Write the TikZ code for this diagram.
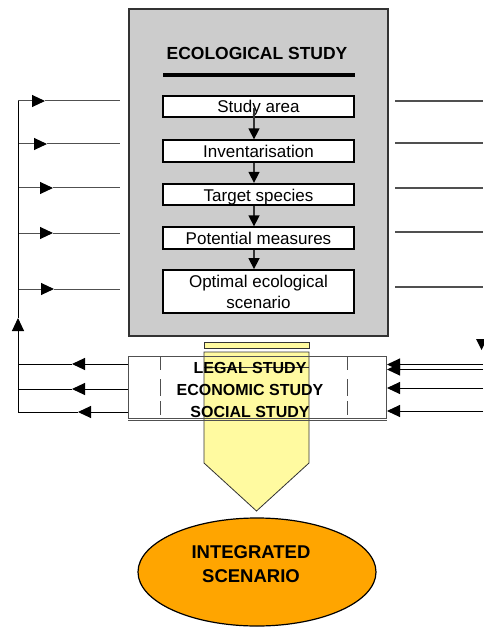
\documentclass[tikz,border=0pt]{standalone}
\usepackage{fontspec}
\setmainfont{Liberation Sans}
\usetikzlibrary{arrows.meta,shapes.geometric}
\definecolor{ecogray}{RGB}{204,204,204}
\definecolor{edgegray}{RGB}{51,51,51}
\definecolor{lightyel}{RGB}{255,250,160}
\definecolor{orng}{RGB}{255,165,0}
\definecolor{linegray}{RGB}{80,80,80}
\tikzset{
  ecobox/.style={draw=black, line width=1.8pt, fill=white, minimum width=191pt,
    minimum height=21.5pt, inner sep=0pt, text height=13pt, text depth=0pt,
    font=\fontsize{17}{21}\selectfont},
  flowarrow/.style={draw=edgegray, line width=1.5pt, -{Triangle[length=11pt,width=11pt,color=black]}},
  feedline/.style={draw=linegray, line width=1pt},
  feedarrow/.style={feedline, -{Triangle[length=13pt,width=12pt,color=black]}},
  sideline/.style={draw=linegray, line width=1.3pt},
}
\begin{document}
\begin{tikzpicture}[x=1pt,y=-1pt]
\useasboundingbox (0,0) rectangle (483,628);

% ecological study frame
\node[draw=edgegray, line width=2pt, fill=ecogray, minimum width=259pt,
  minimum height=327pt, anchor=north west, inner sep=0pt] (eco) at (128,8) {};
\node[font=\fontsize{17.5}{21}\selectfont\bfseries] (title) at (257,53.5) {ECOLOGICAL STUDY};
\draw[line width=3.5pt] (163,75) -- (355,75);

\node[ecobox] (s1) at (258.5,106.5) {Study area};
\node[ecobox] (s2) at (258.5,151) {Inventarisation};
\node[ecobox] (s3) at (258.5,194.5) {Target species};
\node[ecobox] (s4) at (258.5,238) {Potential measures};
\node[ecobox, minimum height=43pt, align=center, text height=33.5pt] (s5) at (258.5,291.5) {Optimal ecological\\scenario};

\draw[flowarrow] ([xshift=-4.5pt,yshift=-1.5pt]s1.center) -- ([xshift=-4.5pt]s2.north);
\draw[flowarrow] ([xshift=-4.5pt]s2.south) -- ([xshift=-4.5pt]s3.north);
\draw[flowarrow] ([xshift=-4.5pt]s3.south) -- ([xshift=-4.5pt]s4.north);
\draw[flowarrow] ([xshift=-4.5pt]s4.south) -- ([xshift=-4.5pt]s5.north);

% left feedback lines into the ecological study
\foreach \y/\t [count=\i] in {101/45,144/47,188/53,233/53,289/54} {
  \coordinate (la\i) at (18,\y);
  \coordinate (lt\i) at (\t,\y);
  \coordinate (lb\i) at (120,\y);
  \draw[feedarrow] (la\i) -- (lt\i);
  \draw[feedline] (lt\i) -- (lb\i);
}
\coordinate (vb) at (18,412);
\coordinate (vt) at (18,318);
\coordinate (vtop) at (18,101);
\draw[feedarrow, draw=black] (vb) -- (vt);
\draw[draw=black, line width=1pt] (vt) -- (vtop);

% right lines
\foreach \y [count=\i] in {101,143,188,232,287} {
  \coordinate (ra\i) at (395,\y);
  \coordinate (rb\i) at (483,\y);
  \draw[sideline] (ra\i) -- (rb\i);
}

% yellow column arrow
\draw[edgegray, fill=lightyel, line width=0.8pt] (204,352) -- (309,352) -- (309,463) -- (256.5,511) -- (204,463) -- cycle;
\draw[edgegray, fill=lightyel, line width=1pt] (204,342) rectangle (309,348);
\draw[edgegray, line width=1pt] (204,367.5) -- (309,367.5);

% band of other studies
\node[draw=linegray, line width=0.8pt, minimum width=258pt, minimum height=62pt,
  anchor=north west, inner sep=0pt] (band) at (128,356) {};
\draw[linegray, line width=0.8pt] ([yshift=-2pt]band.south west) -- ([yshift=-2pt]band.south east);
\draw[linegray, line width=0.8pt, dash pattern=on 14pt off 9pt on 17pt off 5pt] (160,356) -- (160,420);
\draw[linegray, line width=0.8pt, dash pattern=on 14pt off 9pt on 17pt off 5pt] (347,356) -- (347,420);

\node[font=\fontsize{16}{22}\selectfont\bfseries, align=center, text height=55.5pt,
  text depth=0pt, inner sep=0pt] (studies) at (250,389.25) {LEGAL STUDY\\ECONOMIC STUDY\\SOCIAL STUDY};

% left arrows out of the band
\foreach \y/\t [count=\i] in {364/72,389/72,412/78} {
  \coordinate (bl\i) at (128,\y);
  \coordinate (blt\i) at (\t,\y);
  \coordinate (ble\i) at (18,\y);
  \draw[feedarrow, draw=black] (bl\i) -- (blt\i);
  \draw[draw=black, line width=1pt] (blt\i) -- (ble\i);
}

% right arrows into the band
\foreach \y [count=\i] in {364.5,369.5,388,411} {
  \coordinate (bra\i) at (483,\y);
  \coordinate (brt\i) at (387,\y);
  \draw[feedarrow, draw=black] (bra\i) -- (brt\i);
}
\fill (476,339) -- (487,339) -- (481.5,350) -- cycle;

% integrated scenario
\node[ellipse, draw=black, line width=1.2pt, fill=orng, minimum width=238pt,
  minimum height=108pt, inner sep=0pt, align=center,
  font=\fontsize{18.5}{24}\selectfont\bfseries, text height=37.3pt, text depth=17.3pt]
  (ell) at (257,572) {INTEGRATED\hspace*{12pt}\\SCENARIO\hspace*{12pt}};
\end{tikzpicture}
\end{document}
